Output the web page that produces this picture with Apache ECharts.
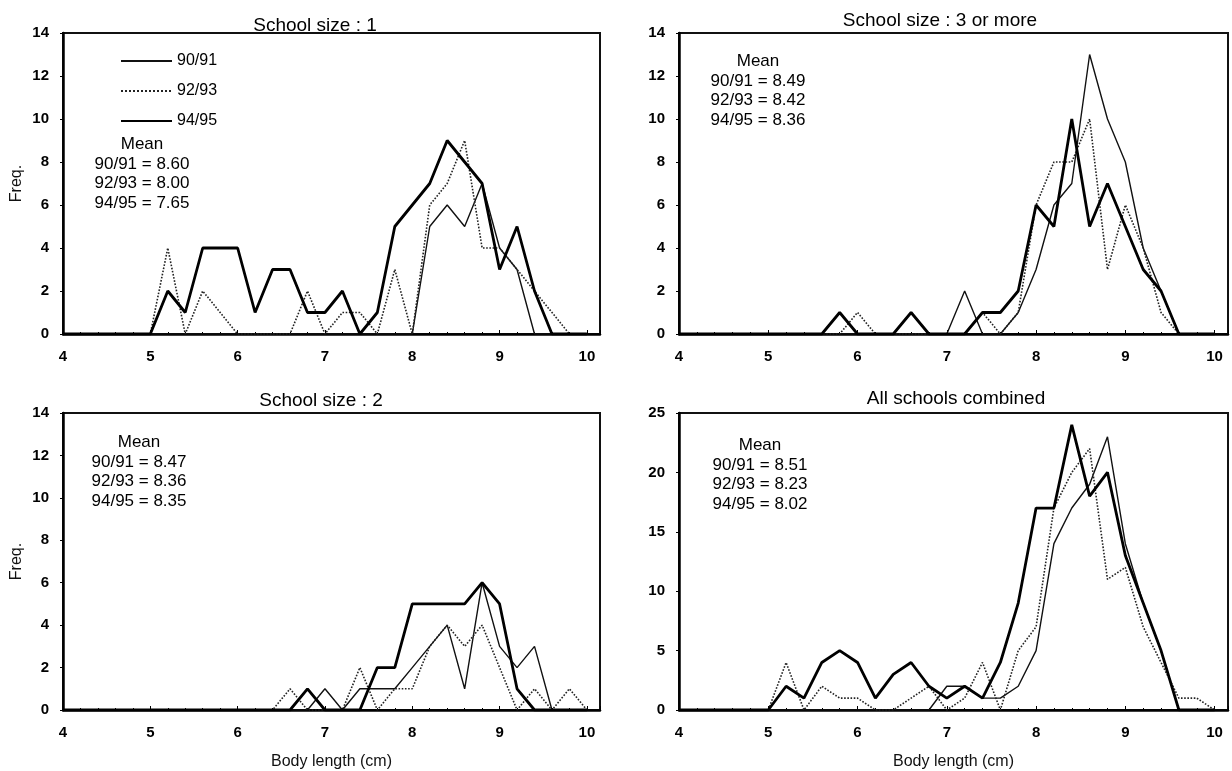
<!DOCTYPE html>
<html lang="en">
<head>
<meta charset="UTF-8">
<title>Body length frequency</title>
<script src="https://cdn.jsdelivr.net/npm/echarts@6/dist/echarts.min.js"></script>
<style>
  html, body { margin: 0; padding: 0; background: #fff; }
  #chart { width: 1232px; height: 771px; }
</style>
</head>
<body>
<div id="chart"></div>
<script>
// body length classes (cm)
var lengths = [4.0, 4.2, 4.4, 4.6, 4.8, 5.0, 5.2, 5.4, 5.6, 5.8, 6.0, 6.2, 6.4, 6.6, 6.8, 7.0,
               7.2, 7.4, 7.6, 7.8, 8.0, 8.2, 8.4, 8.6, 8.8, 9.0, 9.2, 9.4, 9.6, 9.8, 10.0];
var seasons = ['90/91', '92/93', '94/95'];
var xTicks = [4, 5, 6, 7, 8, 9, 10];

// School size : 1
var size1_9091 = [0,0,0,0,0, 0,0,0,0,0, 0,0,0,0,0, 0,0,0,0,0, 0,5,6,5,7, 4,3,0,0,0, 0];
var size1_9293 = [0,0,0,0,0, 0,4,0,2,1, 0,0,0,0,2, 0,1,1,0,3, 0,6,7,9,4, 4,3,2,1,0, 0];
var size1_9495 = [0,0,0,0,0, 0,2,1,4,4, 4,1,3,3,1, 1,2,0,1,5, 6,7,9,8,7, 3,5,2,0,0, 0];

// School size : 3 or more
var size3_9091 = [0,0,0,0,0, 0,0,0,0,0, 0,0,0,0,0, 0,2,0,0,1, 3,6,7,13,10, 8,4,2,0,0, 0];
var size3_9293 = [0,0,0,0,0, 0,0,0,0,0, 1,0,0,0,0, 0,0,1,0,1, 6,8,8,10,3, 6,4,1,0,0, 0];
var size3_9495 = [0,0,0,0,0, 0,0,0,0,1, 0,0,0,1,0, 0,0,1,1,2, 6,5,10,5,7, 5,3,2,0,0, 0];

// School size : 2
var size2_9091 = [0,0,0,0,0, 0,0,0,0,0, 0,0,0,0,0, 1,0,1,1,1, 2,3,4,1,6, 3,2,3,0,0, 0];
var size2_9293 = [0,0,0,0,0, 0,0,0,0,0, 0,0,0,1,0, 0,0,2,0,1, 1,3,4,3,4, 2,0,1,0,1, 0];
var size2_9495 = [0,0,0,0,0, 0,0,0,0,0, 0,0,0,0,1, 0,0,0,2,2, 5,5,5,5,6, 5,1,0,0,0, 0];

// All schools combined
var all_9091 = [0,0,0,0,0, 0,0,0,0,0, 0,0,0,0,0, 2,2,1,1,2, 5,14,17,19,23, 14,9,5,0,0, 0];
var all_9293 = [0,0,0,0,0, 0,4,0,2,1, 1,0,0,1,2, 0,1,4,0,5, 7,17,20,22,11, 12,7,4,1,1, 0];
var all_9495 = [0,0,0,0,0, 0,2,1,4,5, 4,1,3,4,2, 1,2,1,4,9, 17,17,24,18,20, 13,9,5,0,0, 0];

var panelTitles = ['School size : 1', 'School size : 3 or more', 'School size : 2', 'All schools combined'];
var meanTexts = [
  ['90/91 = 8.60', '92/93 = 8.00', '94/95 = 7.65'],
  ['90/91 = 8.49', '92/93 = 8.42', '94/95 = 8.36'],
  ['90/91 = 8.47', '92/93 = 8.36', '94/95 = 8.35'],
  ['90/91 = 8.51', '92/93 = 8.23', '94/95 = 8.02']
];
var yMax = [14, 14, 14, 25];
var yStep = [2, 2, 2, 5];

var panelData = [
  [size1_9091, size1_9293, size1_9495],
  [size3_9091, size3_9293, size3_9495],
  [size2_9091, size2_9293, size2_9495],
  [all_9091, all_9293, all_9495]
];

var FONT = '"Liberation Sans Narrow", "Liberation Sans", Arial, sans-serif';
var grids = [
  { left: 63,  top: 33,  width: 537, height: 301 },
  { left: 679, top: 33,  width: 549, height: 301 },
  { left: 63,  top: 413, width: 537, height: 298 },
  { left: 679, top: 413, width: 549, height: 298 }
];
var titlePos = [[310, 11], [935, 6], [316, 386], [951, 384]];
var meanPos = [[142, 135], [758, 52], [139, 433], [760, 436]];

var lineStyles = [
  { color: '#111', width: 1.4, type: 'solid' },
  { color: '#222', width: 1.6, type: 'dotted' },
  { color: '#000', width: 2.8, type: 'solid' }
];

function pairs(vals) {
  return lengths.map(function (x, i) { return [x, vals[i]]; });
}

var xAxes = [], yAxes = [], series = [], titles = [], graphics = [];
grids.forEach(function (g, k) {
  g.show = true;
  g.borderColor = '#111';
  g.borderWidth = 2;
  g.backgroundColor = 'transparent';
  xAxes.push({
    type: 'value', gridIndex: k, min: 4, max: 10.15, interval: 1,
    name: k >= 2 ? 'Body length (cm)' : '',
    nameLocation: 'middle', nameGap: 44,
    nameTextStyle: { fontFamily: FONT, fontSize: 16, color: '#111' },
    axisLine: { show: true, lineStyle: { color: '#000', width: 2.5 } },
    axisTick: { show: true, inside: true, length: 4, lineStyle: { color: '#000' } },
    minorTick: { show: true, splitNumber: 5, length: 2, lineStyle: { color: '#000' } },
    splitLine: { show: false },
    axisLabel: {
      margin: 15, fontFamily: FONT, fontSize: 15, fontWeight: 'bold', color: '#000',
      formatter: function (v) { return xTicks.indexOf(v) >= 0 ? String(v) : ''; }
    }
  });
  yAxes.push({
    type: 'value', gridIndex: k, min: 0, max: yMax[k], interval: yStep[k],
    name: (k === 0 || k === 2) ? 'Freq.' : '',
    nameLocation: 'middle', nameGap: 38, nameRotate: 90,
    nameTextStyle: { fontFamily: FONT, fontSize: 16, color: '#111' },
    axisLine: { show: true, lineStyle: { color: '#000', width: 2.5 } },
    axisTick: { show: true, length: 3, lineStyle: { color: '#000' } },
    splitLine: { show: false },
    axisLabel: { margin: 14, fontFamily: FONT, fontSize: 15, fontWeight: 'bold', color: '#000' }
  });
  panelData[k].forEach(function (vals, s) {
    series.push({
      name: seasons[s], type: 'line', xAxisIndex: k, yAxisIndex: k,
      data: pairs(vals), symbol: 'none', silent: true, animation: false,
      color: '#000',
      lineStyle: lineStyles[s], z: s === 2 ? 4 : 3
    });
  });
  titles.push({
    text: panelTitles[k], left: titlePos[k][0], top: titlePos[k][1], textAlign: 'center',
    textStyle: { fontFamily: FONT, fontSize: 19, fontWeight: 'normal', color: '#000' }
  });
  graphics.push({
    type: 'text', x: meanPos[k][0], y: meanPos[k][1],
    style: {
      text: 'Mean\n' + meanTexts[k].join('\n'),
      fontFamily: FONT, fontSize: 17, lineHeight: 19.5,
      fill: '#000', align: 'center', verticalAlign: 'top'
    }
  });
});

var chart = echarts.init(document.getElementById('chart'), null, { renderer: 'canvas' });
chart.setOption({
  animation: false,
  backgroundColor: '#fff',
  title: titles,
  legend: {
    data: seasons, orient: 'vertical', left: 115, top: 48,
    itemWidth: 51, itemHeight: 16, itemGap: 14,
    selectedMode: false,
    itemStyle: { opacity: 0 },
    textStyle: { fontFamily: FONT, fontSize: 16, color: '#000' }
  },
  grid: grids,
  xAxis: xAxes,
  yAxis: yAxes,
  series: series,
  graphic: graphics
});
</script>
</body>
</html>
